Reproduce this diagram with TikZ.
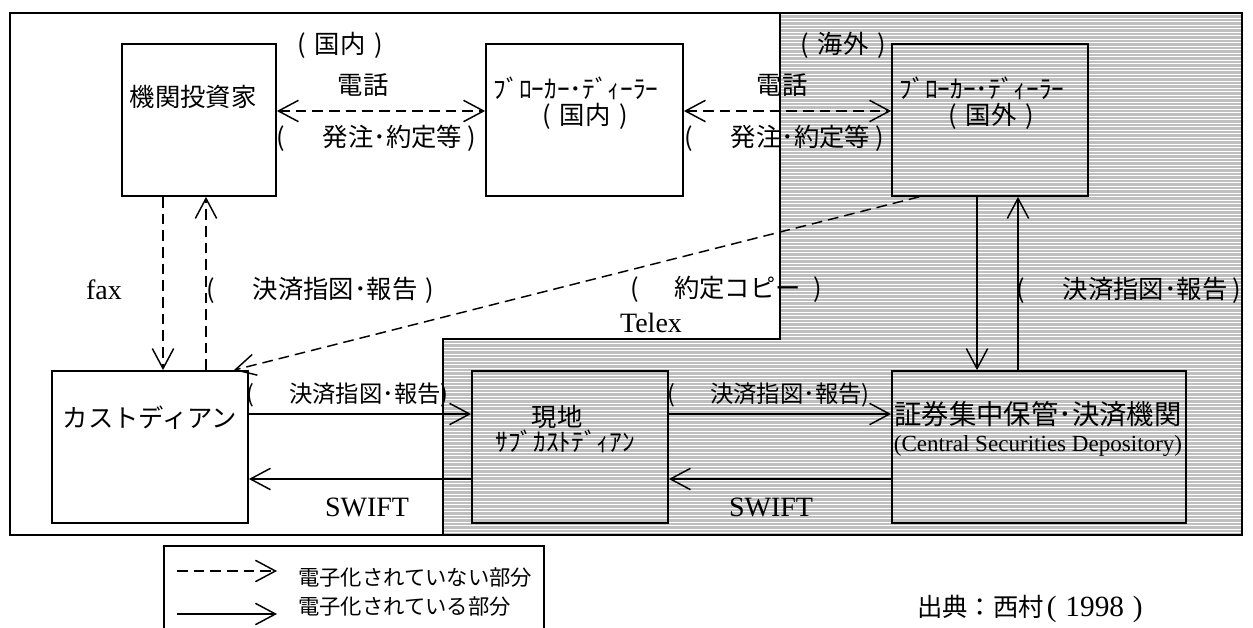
\documentclass[tikz,border=0pt]{standalone}
\usepackage{fontspec}
\setmainfont{Liberation Serif}
\newfontfamily\jp{Noto Sans CJK JP}
\usetikzlibrary{arrows.meta,calc}
\begin{document}
\begin{tikzpicture}[x=0.75pt,y=-0.75pt,
  every node/.style={inner sep=0pt},
  box/.style={draw,line width=1.3pt,inner sep=0pt},
  >={Straight Barb[length=15pt,width=16pt]},
  conn/.style={line width=1.1pt,->},
  dconn/.style={conn,dash pattern=on 8pt off 4.5pt},
  jpL/.style={font=\jp\fontsize{19pt}{23pt}\selectfont},
  jpM/.style={font=\jp\fontsize{17.5pt}{21pt}\selectfont},
  jpS/.style={font=\jp\fontsize{16pt}{19pt}\selectfont},
  rmL/.style={font=\fontsize{21pt}{25pt}\selectfont},
  rmM/.style={font=\fontsize{17.3pt}{21pt}\selectfont},
  hatchbg/.style={fill=black!25},
  hatchline/.style={white,line width=0.75pt}
  ]
\useasboundingbox (0,0) rectangle (1253,628);

% gray (overseas) region
\begin{scope}
  \clip (780,13) -- (1242,13) -- (1242,535) -- (443,535) -- (443,339) -- (780,339) -- cycle;
  \fill[hatchbg] (440,10) rectangle (1245,540);
  \foreach \yy in {14.5,18,...,536} \draw[hatchline] (440,\yy) -- (1245,\yy);
\end{scope}
\draw[line width=1.3pt] (780,13) -- (780,339) -- (443,339) -- (443,535);
\draw[line width=1.3pt] (10,13) rectangle (1242,535);

% boxes
\node[box,minimum width=115.5pt,minimum height=114pt] (inv) at (199,120) {};
\node[box,minimum width=147.75pt,minimum height=114pt] (bdom) at (584.5,120) {};
\node[box,minimum width=147pt,minimum height=114pt] (bfor) at (990,120) {};
\node[box,minimum width=147pt,minimum height=114pt] (cust) at (150,447) {};
\node[box,minimum width=147pt,minimum height=114pt] (sub) at (570,447) {};
\node[box,minimum width=220.5pt,minimum height=114pt] (csd) at (1039,447) {};

% box texts
\node[jpL] (tinv) at (193,97) {機関投資家};
\node[jpL] (tbd1) at (576,88) {ﾌﾞﾛｰｶｰ･ﾃﾞｨｰﾗｰ};
\node[jpL] (tbd2) at (585,116) {(\hspace{0.35em}国内\hspace{0.35em})};
\node[jpL] (tbf1) at (982,88) {ﾌﾞﾛｰｶｰ･ﾃﾞｨｰﾗｰ};
\node[jpL] (tbf2) at (991,116) {(\hspace{0.35em}国外\hspace{0.35em})};
\node[jpL] (tcust) at (150,418) {カストディアン};
\node[jpL] (tsub1) at (557,417) {現地};
\node[jpL] (tsub2) at (565,441) {ｻﾌﾞｶｽﾄﾃﾞｨｱﾝ};
\node[jpL,font=\jp\fontsize{20.5pt}{24pt}\selectfont] (tcsd1) at (1038,414) {証券集中保管･決済機関};
\node[rmM] (tcsd2) at (1038,446) {(Central Securities Depository)};

% region labels
\node[jpL] (rdom) at (340,45) {(\hspace{0.35em}国内\hspace{0.35em})};
\node[jpL] (rfor) at (843,45) {(\hspace{0.35em}海外\hspace{0.35em})};

% connectors
\draw[dconn,<->] ($(inv.east)+(0,-9)$) -- ($(bdom.west)+(0,-9)$);
\draw[dconn,<->] ($(bdom.east)+(0,-9)$) -- ($(bfor.west)+(0,-9)$);
\draw[dconn] ($(inv.south)+(-36,0)$) -- ($(cust.north)+(13,0)$);
\draw[dconn] ($(cust.north)+(56,0)$) -- ($(inv.south)+(7,0)$);
\draw[dconn] ($(bfor.south west)+(28,0)$) -- ($(cust.north east)+(-15,0)$);
\draw[conn] ($(cust.east)+(0,-33)$) -- ($(sub.west)+(0,-33)$);
\draw[conn] ($(sub.west)+(0,32)$) -- ($(cust.east)+(0,32)$);
\draw[conn] ($(sub.east)+(0,-33)$) -- ($(csd.west)+(0,-33)$);
\draw[conn] ($(csd.west)+(0,32)$) -- ($(sub.east)+(0,32)$);
\draw[conn] ($(bfor.south)+(-13,0)$) -- ($(csd.north)+(-62,0)$);
\draw[conn] ($(csd.north)+(-21,0)$) -- ($(bfor.south)+(28,0)$);

% connector labels
\node[jpL] (tel1) at (363,85) {電話};
\node[jpL,anchor=west] (ord1) at (276,138) {(\hspace{1.5em}発注･約定等\hspace{0.2em})};
\node[jpL] (tel2) at (782,85) {電話};
\node[jpL,anchor=west] (ord2) at (684,138) {(\hspace{1.5em}発注･約定等\hspace{0.2em})};
\node[rmL] (fax) at (104,290) {fax};
\node[jpL,anchor=west] (set1) at (206,290) {(\hspace{1.5em}決済指図･報告\hspace{0.3em})};
\node[jpL,anchor=west] (copy) at (630,289) {(\hspace{1.4em}約定コピー\hspace{0.5em})};
\node[rmL] (telex) at (651,323) {Telex};
\node[jpL,anchor=west] (set2) at (1016,290) {(\hspace{1.5em}決済指図･報告\hspace{0.2em})};
\node[jpM,anchor=west] (set3) at (246,395) {(\hspace{1.5em}決済指図･報告)};
\node[jpM,anchor=west] (set4) at (667,395) {(\hspace{1.5em}決済指図･報告)};
\node[rmL] (sw1) at (367,507) {SWIFT};
\node[rmL] (sw2) at (771,507) {SWIFT};

% legend
\node[box,minimum width=285pt,minimum height=90pt] (leg) at (354,606) {};
\coordinate (ld1) at (177,571);
\coordinate (ld2) at (277,571);
\coordinate (ls1) at (177,614);
\coordinate (ls2) at (277,614);
\draw[dconn] (ld1) -- (ld2);
\draw[conn] (ls1) -- (ls2);
\node[jpS,anchor=west] (leg1) at (298,577) {電子化されていない部分};
\node[jpS,anchor=west] (leg2) at (298,606) {電子化されている部分};

% source
\node[anchor=west] (src) at (917,609) {{\jp\fontsize{19pt}{22pt}\selectfont 出典：西村}{\fontsize{22pt}{26pt}\selectfont\hspace{0.1em}(\hspace{0.3em}1998\hspace{0.3em})}};
\end{tikzpicture}
\end{document}
